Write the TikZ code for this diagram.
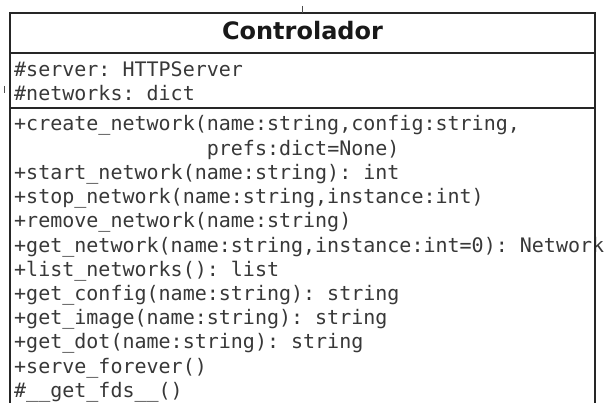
\documentclass[tikz,border=0pt]{standalone}
\usepackage{fontspec}
\setmainfont{DejaVu Sans}
\setmonofont{DejaVu Sans Mono}
\begin{document}
\begin{tikzpicture}[x=1pt,y=-1pt,
  classline/.style={draw=black!85,line width=2.4pt},
  member/.style={anchor=base west,inner sep=0pt,text=black!78,
    font=\ttfamily\fontsize{20}{24}\selectfont},
  classname/.style={anchor=base,inner sep=0pt,text=black!90,
    font=\bfseries\fontsize{24}{28}\selectfont},
  tick/.style={draw=black!70,line width=1pt}]
\useasboundingbox (0,0) rectangle (607,403);
\clip (0,0) rectangle (607,403);
\fill[white] (0,0) rectangle (607,403);

% class name
\node[classname] (title) at (302.5,40) {Controlador};

% attributes
\node[member] (a1) at (14,77)  {\#server: HTTPServer};
\node[member] (a2) at (14,101) {\#networks: dict};

% operations
\foreach \txt [count=\i from 0] in {
  {+create\_network(name:string,config:string,},
  {\phantom{+create\_network(}prefs:dict=None)},
  {+start\_network(name:string): int},
  {+stop\_network(name:string,instance:int)},
  {+remove\_network(name:string)},
  {+get\_network(name:string,instance:int=0): Network},
  {+list\_networks(): list},
  {+get\_config(name:string): string},
  {+get\_image(name:string): string},
  {+get\_dot(name:string): string},
  {+serve\_forever()},
  {\#\_\_get\_fds\_\_()}}
  \node[member] (m\i) at (14,131+24.2*\i) {\txt};

% class frame and compartment separators
\coordinate (tl) at (10,13);
\coordinate (tr) at (595,13);
\coordinate (bl) at (10,410);
\coordinate (br) at (595,410);
\draw[classline] (bl) -- (tl) -- (tr) -- (br);
\draw[classline] (10,53) -- (595,53);
\draw[classline] (10,108) -- (595,108);

% connector stubs
\coordinate (s1) at (302,6);
\coordinate (s2) at (4.5,86);
\draw[tick] (s1) -- (302,13);
\draw[tick] (s2) -- (4.5,93);
\end{tikzpicture}
\end{document}
